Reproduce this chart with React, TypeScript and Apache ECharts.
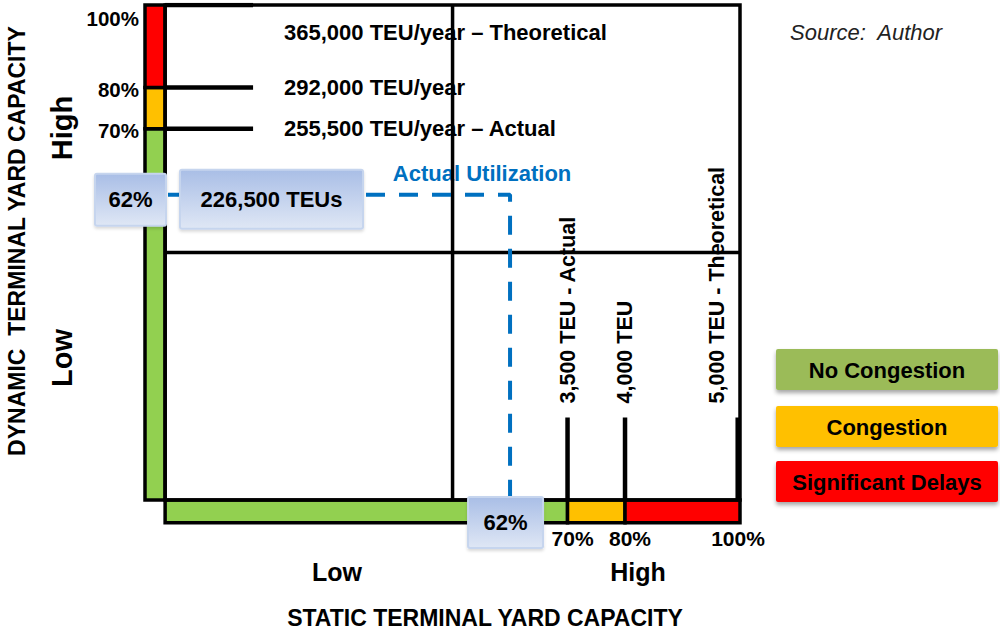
import React, { useEffect, useRef } from 'react';
import * as echarts from 'echarts';

// ---- data ----
const bandNames = ['No Congestion', 'Congestion', 'Significant Delays'];
const bandColors = ['#92d050', '#ffc000', '#ff0000'];
const legendColors = ['#9bbb59', '#ffc000', '#ff0000'];
const bandFrom = [0, 70, 80];
const bandTo = [70, 80, 100];

const yLevelPercents = [100, 80, 70];
const yLevelLabels = ['365,000 TEU/year – Theoretical', '292,000 TEU/year', '255,500 TEU/year – Actual'];
const xLevelPercents = [70, 80, 100];
const xLevelLabels = ['3,500 TEU - Actual', '4,000 TEU', '5,000 TEU - Theoretical'];

const actualUtilizationPercent = 62;
const actualUtilizationTEU = '226,500 TEUs';
// where the (not-to-scale) source diagram draws the actual-utilization marker
const markerX = 60;
const markerY = 54;
// quadrant split lines
const quadrantX = 50;
const quadrantY = 40;

const FONT = '"Liberation Sans", Arial, Helvetica, sans-serif';

// axis extents (diagram coordinates)
const X_MIN = -3.5;
const X_MAX = 100;
const Y_MIN = -26;
const Y_MAX = 100;
const BOX_BOTTOM = -20;
const BAR_BOTTOM = -25.5;

export default function App() {
  const ref = useRef<HTMLDivElement>(null);

  useEffect(() => {
    document.body.style.margin = '0';
    const chart = echarts.init(ref.current!, null, { renderer: 'svg' });

    const rects: number[][] = [];
    // vertical (dynamic) bar
    for (let i = 0; i < 3; i++) {
      rects.push([X_MIN, 0, i === 0 ? BOX_BOTTOM : bandFrom[i], bandTo[i], i]);
    }
    // horizontal (static) bar
    for (let i = 0; i < 3; i++) {
      rects.push([bandFrom[i], bandTo[i], BAR_BOTTOM, BOX_BOTTOM, i]);
    }
    // main box
    rects.push([0, 100, BOX_BOTTOM, 100, -1]);

    const seg = (pts: number[][], width: number, color = '#000', type: any = 'solid', z = 3) => ({
      type: 'line',
      data: pts,
      symbol: 'none',
      silent: true,
      z,
      lineStyle: { width, color, type, cap: 'butt' },
    });

    const series: any[] = [
      {
        type: 'custom',
        silent: true,
        z: 2,
        data: rects,
        encode: { x: [0, 1], y: [2, 3] },
        renderItem: (params: any, api: any) => {
          const x0 = api.value(0), x1 = api.value(1), y0 = api.value(2), y1 = api.value(3);
          const ci = api.value(4);
          const p0 = api.coord([x0, y1]);
          const p1 = api.coord([x1, y0]);
          return {
            type: 'rect',
            shape: { x: p0[0], y: p0[1], width: p1[0] - p0[0], height: p1[1] - p0[1] },
            style: { fill: ci >= 0 ? bandColors[ci] : 'none', stroke: '#000', lineWidth: 3.5 },
          };
        },
      },
      // quadrant lines
      seg([[quadrantX, BOX_BOTTOM], [quadrantX, 100]], 3.5),
      seg([[0, quadrantY], [100, quadrantY]], 3.5),
      // actual utilization dashed marker
      seg([[0.5, markerY], [markerX, markerY], [markerX, BOX_BOTTOM + 1]], 4, '#0070c0', [19, 14], 4),
    ];
    // dynamic capacity level ticks
    yLevelPercents.forEach((p) => series.push(seg([[0, p], [15.3, p]], 4.5)));
    // static capacity level ticks
    xLevelPercents.forEach((p) => series.push(seg([[p === 100 ? 99.6 : p, 0], [p === 100 ? 99.6 : p, BOX_BOTTOM]], 4.5)));

    chart.setOption({
      animation: false,
      grid: { left: 145, right: 260, top: 5, bottom: 105.25 },
      xAxis: { type: 'value', min: X_MIN, max: X_MAX, show: false },
      yAxis: { type: 'value', min: Y_MIN, max: Y_MAX, show: false },
      series,
    });

    const px = (x: number, y: number) => chart.convertToPixel({ gridIndex: 0 }, [x, y]) as number[];

    const txt = (x: number, y: number, text: string, o: any = {}) => ({
      type: 'text',
      x,
      y,
      rotation: o.rotation || 0,
      z: o.z ?? 50,
      style: {
        text,
        fill: o.fill || '#000',
        font: `${o.italic ? 'italic ' : ''}${o.weight || 'bold'} ${o.size || 22}px ${FONT}`,
        align: o.align || 'left',
        verticalAlign: o.vAlign || 'middle',
      },
    });

    const grad = new echarts.graphic.LinearGradient(0, 0, 0, 1, [
      { offset: 0, color: '#a9bee6' },
      { offset: 1, color: '#dfe7f5' },
    ]);
    const annoBox = (x: number, y: number, w: number, h: number, text: string) => ({
      type: 'group',
      z: 60,
      children: [
        {
          type: 'rect',
          z: 60,
          shape: { x, y, width: w, height: h, r: 2 },
          style: {
            fill: grad,
            stroke: '#c6d5ee',
            lineWidth: 2,
            shadowBlur: 3,
            shadowOffsetY: 2,
            shadowColor: 'rgba(0,0,0,0.15)',
          },
        },
        txt(x + w / 2, y + h / 2, text, { align: 'center', z: 61, size: 22 }),
      ],
    });

    const graphic: any[] = [];

    // percent labels on vertical bar
    yLevelPercents.forEach((p, i) => {
      const pt = px(X_MIN, p);
      const y = p === 100 ? pt[1] + 13 : pt[1] + 2;
      graphic.push(txt(pt[0] - 6, y, `${p}%`, { align: 'right', size: 20.5 }));
      const lp = px(0, p);
      graphic.push(txt(284, p === 100 ? lp[1] + 27 : lp[1], yLevelLabels[i], { size: 22 }));
    });
    // percent labels on horizontal bar
    const boxRight = px(100, 0)[0];
    xLevelPercents.forEach((p, i) => {
      const pt = px(p, BAR_BOTTOM);
      graphic.push(txt(p === 100 ? pt[0] - 2 : pt[0] + 5, pt[1] + 16, `${p}%`, { align: 'center', size: 21 }));
      const tp = px(p, 0);
      const x = Math.min(tp[0], boxRight - 23);
      graphic.push(txt(x, tp[1] - 14, xLevelLabels[i], { rotation: Math.PI / 2, size: 21.5, z: 1 }));
    });

    // actual utilization labels
    const m = px(markerX, markerY);
    graphic.push(txt(m[0] - 28, m[1] - 21, 'Actual Utilization', { align: 'center', fill: '#0070c0', size: 22, z: 1 }));
    graphic.push(annoBox(95, m[1] - 21, 71, 52, `${actualUtilizationPercent}%`));
    graphic.push(annoBox(180, m[1] - 25, 183, 59, actualUtilizationTEU));
    graphic.push(annoBox(m[0] - 42, px(0, BOX_BOTTOM)[1] - 3, 75, 51, `${actualUtilizationPercent}%`));

    // axis titles
    graphic.push(txt(17, 241, 'DYNAMIC  TERMINAL YARD CAPACITY', { rotation: Math.PI / 2, align: 'center', size: 23 }));
    graphic.push(txt(62, 128, 'High', { rotation: Math.PI / 2, align: 'center', size: 29 }));
    graphic.push(txt(62, 358, 'Low', { rotation: Math.PI / 2, align: 'center', size: 29 }));
    graphic.push(txt(337, 572, 'Low', { align: 'center', size: 25 }));
    graphic.push(txt(638, 572, 'High', { align: 'center', size: 25 }));
    graphic.push(txt(485, 618, 'STATIC TERMINAL YARD CAPACITY', { align: 'center', size: 23 }));

    // source
    graphic.push(txt(790, 32, 'Source:  Author', { italic: true, weight: 'normal', size: 22, fill: '#222' }));

    // legend
    const legendTop = [349, 406, 461];
    bandNames.forEach((name, i) => {
      graphic.push({
        type: 'group',
        z: 40,
        children: [
          {
            type: 'rect',
            z: 40,
            shape: { x: 776, y: legendTop[i], width: 222, height: 41, r: 2 },
            style: {
              fill: legendColors[i],
              shadowBlur: 4,
              shadowOffsetY: 3,
              shadowColor: 'rgba(0,0,0,0.35)',
            },
          },
          txt(887, legendTop[i] + 21, name, { align: 'center', size: 22, z: 41 }),
        ],
      });
    });

    chart.setOption({ graphic });

    return () => chart.dispose();
  }, []);

  return <div ref={ref} style={{ width: 1000, height: 630 }} />;
}
